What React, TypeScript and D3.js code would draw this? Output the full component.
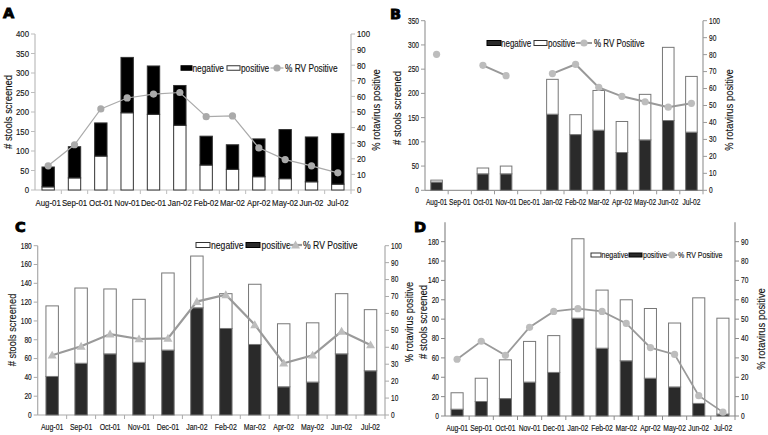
import React from "react";
import * as d3 from "d3";

const MONTHS = ["Aug-01", "Sep-01", "Oct-01", "Nov-01", "Dec-01", "Jan-02", "Feb-02", "Mar-02", "Apr-02", "May-02", "Jun-02", "Jul-02"];

// Panel A
const A_POSITIVE = [8, 31, 87, 198, 194, 166, 64, 53, 34, 29, 21, 15];
const A_NEGATIVE = [51, 80, 85, 142, 124, 102, 74, 63, 97, 126, 115, 130];
const A_PCT = [15.5, 29, 52, 59, 61.5, 62.5, 47, 47.5, 27, 19.5, 15.5, 11];
const A_LEFT_TICKS = [0, 50, 100, 150, 200, 250, 300, 350, 400];

// Panel B
const B_NEGATIVE: (number | null)[] = [17, null, 34, 34, null, 157, 115, 124, 78, 104, 144, 120];
const B_POSITIVE: (number | null)[] = [4, null, 12, 16, null, 72, 41, 82, 64, 94, 151, 115];
const B_PCT: (number | null)[] = [80.2, null, 73.7, 67.6, null, 68.8, 74.3, 60.7, 55.4, 52.2, 49, 51.3];
const B_LEFT_TICKS = [0, 50, 100, 150, 200, 250, 300, 350];

// Panel C
const C_POSITIVE = [41, 55, 65, 56, 69, 114, 92, 75, 30, 35, 65, 47];
const C_NEGATIVE = [75, 80, 69, 67, 82, 55, 37, 64, 67, 63, 64, 65];
const C_PCT = [35.3, 40.6, 47.8, 44.9, 45.3, 67, 71, 53.3, 30.6, 35.3, 49.4, 41.4];
const C_LEFT_TICKS = [0, 20, 40, 60, 80, 100, 120, 140, 160, 180];

// Panel D
const D_POSITIVE = [7, 15, 18, 35, 45, 101, 70, 57, 39, 30, 13, 2];
const D_NEGATIVE = [17, 24, 40, 42, 38, 82, 60, 63, 72, 66, 109, 99];
const D_PCT = [29.3, 38.6, 31.3, 45.8, 54, 55.4, 54, 47.8, 35.3, 31.8, 10.5, 2];
const D_LEFT_TICKS = [0, 20, 40, 60, 80, 100, 120, 140, 160, 180];
const D_LEFT_LABELS = ["0", "20", "40", "60", "80", "00", "20", "140", "160", "180"];

const PCT_TICKS_100 = [0, 10, 20, 30, 40, 50, 60, 70, 80, 90, 100];
const PCT_TICKS_90 = [0, 10, 20, 30, 40, 50, 60, 70, 80, 90];

const FONT = "'Liberation Sans', Arial, sans-serif";
const NX = 0.8; // horizontal condensation of the text

type Legend = {
  y: number;
  items: { kind: "rect" | "line"; x: number; w: number; fill: string; label: string; tx: number }[];
  size: number;
  boxH: number;
};

type PanelCfg = {
  letter: string;
  lx: number;
  ly: number;
  left: number;
  right: number;
  top: number;
  bottom: number;
  leftMax: number;
  leftTicks: number[];
  leftLabels?: string[];
  rightTicks: number[];
  rightMax: number;
  bottomVals: (number | null)[];
  topVals: (number | null)[];
  pct: (number | null)[];
  bottomFill: string;
  topFill: string;
  barStroke: string;
  barFrac: number;
  axisColor: string;
  lineColor: string;
  lineWidth: number;
  markerFill: string;
  marker: "circle" | "triangle";
  tickFont: number;
  xFont: number;
  xLabelY: number;
  titleFont: number;
  leftTitle: [number, number];
  rightTitle: [number, number];
  legend: Legend;
};

const DARK = "#2a2a2a";

const PANELS: PanelCfg[] = [
  {
    letter: "A", lx: 3, ly: 18,
    left: 35, right: 351, top: 34, bottom: 190,
    leftMax: 400, leftTicks: A_LEFT_TICKS, rightTicks: PCT_TICKS_100, rightMax: 100,
    bottomVals: A_POSITIVE, topVals: A_NEGATIVE, pct: A_PCT,
    bottomFill: "#ffffff", topFill: "#000000", barStroke: "#333", barFrac: 0.47,
    axisColor: "#bdbdbd", lineColor: "#aaaaaa", lineWidth: 1.2, markerFill: "#aaaaaa", marker: "circle",
    tickFont: 9.8, xFont: 9.8, xLabelY: 206, titleFont: 11.8,
    leftTitle: [8, 112], rightTitle: [376, 110],
    legend: {
      y: 68, size: 10.4, boxH: 4.5,
      items: [
        { kind: "rect", x: 181, w: 11, fill: "#000", label: "negative", tx: 192.5 },
        { kind: "rect", x: 227, w: 13, fill: "#fff", label: "positive", tx: 241 },
        { kind: "line", x: 270.5, w: 13, fill: "#aaa", label: "% RV Positive", tx: 285 },
      ],
    },
  },
  {
    letter: "B", lx: 390, ly: 19,
    left: 425, right: 703, top: 20.7, bottom: 190.3,
    leftMax: 350, leftTicks: B_LEFT_TICKS, rightTicks: PCT_TICKS_100, rightMax: 100,
    bottomVals: B_NEGATIVE, topVals: B_POSITIVE, pct: B_PCT,
    bottomFill: DARK, topFill: "#ffffff", barStroke: "#777", barFrac: 0.5,
    axisColor: "#9a9a9a", lineColor: "#999999", lineWidth: 2, markerFill: "#bdbdbd", marker: "circle",
    tickFont: 8.3, xFont: 8.3, xLabelY: 205, titleFont: 11.8,
    leftTitle: [397, 108], rightTitle: [729, 110],
    legend: {
      y: 43, size: 10, boxH: 5,
      items: [
        { kind: "rect", x: 487, w: 14, fill: DARK, label: "negative", tx: 501 },
        { kind: "rect", x: 534, w: 13, fill: "#fff", label: "positive", tx: 548 },
        { kind: "line", x: 576, w: 16, fill: "#bdbdbd", label: "% RV Positive", tx: 594 },
      ],
    },
  },
  {
    letter: "C", lx: 15, ly: 232,
    left: 37.7, right: 385, top: 245.7, bottom: 415,
    leftMax: 180, leftTicks: C_LEFT_TICKS, rightTicks: PCT_TICKS_100, rightMax: 100,
    bottomVals: C_POSITIVE, topVals: C_NEGATIVE, pct: C_PCT,
    bottomFill: DARK, topFill: "#ffffff", barStroke: "#777", barFrac: 0.43,
    axisColor: "#aaaaaa", lineColor: "#9a9a9a", lineWidth: 2.2, markerFill: "#bdbdbd", marker: "triangle",
    tickFont: 8.2, xFont: 8.7, xLabelY: 430, titleFont: 11.6,
    leftTitle: [12, 330], rightTitle: [409, 322],
    legend: {
      y: 245, size: 10.8, boxH: 5,
      items: [
        { kind: "rect", x: 196, w: 14, fill: "#fff", label: "negative", tx: 211 },
        { kind: "rect", x: 246, w: 14, fill: DARK, label: "positive", tx: 261.5 },
        { kind: "line", x: 289, w: 13, fill: "#bdbdbd", label: "% RV Positive", tx: 303 },
      ],
    },
  },
  {
    letter: "D", lx: 414, ly: 232,
    left: 445, right: 735, top: 222.3, bottom: 416,
    leftMax: 200, leftTicks: D_LEFT_TICKS, leftLabels: D_LEFT_LABELS, rightTicks: PCT_TICKS_90, rightMax: 100,
    bottomVals: D_POSITIVE, topVals: D_NEGATIVE, pct: D_PCT,
    bottomFill: DARK, topFill: "#ffffff", barStroke: "#777", barFrac: 0.5,
    axisColor: "#8a8a8a", lineColor: "#9a9a9a", lineWidth: 1.8, markerFill: "#bdbdbd", marker: "circle",
    tickFont: 8.3, xFont: 8.5, xLabelY: 431, titleFont: 11.8,
    leftTitle: [423, 322], rightTitle: [761, 329],
    legend: {
      y: 255, size: 8.8, boxH: 4,
      items: [
        { kind: "rect", x: 591, w: 10, fill: "#fff", label: "negative", tx: 601.5 },
        { kind: "rect", x: 629, w: 13, fill: DARK, label: "positive", tx: 643 },
        { kind: "line", x: 667, w: 10, fill: "#bdbdbd", label: "% RV Positive", tx: 678 },
      ],
    },
  },
];

function Txt({ x, y, size, anchor = "start", rot = 0, children }: { x: number; y: number; size: number; anchor?: string; rot?: number; children: React.ReactNode }) {
  return (
    <text
      transform={`translate(${x},${y}) rotate(${rot}) scale(${NX},1)`}
      textAnchor={anchor}
      dy="0.35em"
      fontSize={size}
      fontFamily={FONT}
      fill="#151515"
      stroke="#151515"
      strokeWidth={0.15}
    >
      {children}
    </text>
  );
}

function Marker({ kind, cx, cy, fill }: { kind: "circle" | "triangle"; cx: number; cy: number; fill: string }) {
  if (kind === "circle") return <circle cx={cx} cy={cy} r={3.6} fill={fill} />;
  const s = 4.5;
  return <path d={`M${cx},${cy - s}L${cx + s},${cy + s * 0.75}L${cx - s},${cy + s * 0.75}Z`} fill={fill} />;
}

function Panel({ p }: { p: PanelCfg }) {
  const x = d3.scaleBand<string>().domain(MONTHS).range([p.left, p.right]);
  const yL = d3.scaleLinear().domain([0, p.leftMax]).range([p.bottom, p.top]);
  const yR = d3.scaleLinear().domain([0, p.rightMax]).range([p.bottom, p.top]);
  const bw = x.step() * p.barFrac;
  const cxOf = (m: string) => (x(m) as number) + x.bandwidth() / 2;
  const line = d3
    .line<number | null>()
    .defined((d) => d !== null)
    .x((_, i) => cxOf(MONTHS[i]))
    .y((d) => yR(d as number));

  const tickLen = 4;
  return (
    <g>
      <text x={p.lx} y={p.ly} fontFamily="'DejaVu Sans', sans-serif" fontWeight="bold" fontSize={14.5} stroke="#000" strokeWidth={0.9}>
        {p.letter}
      </text>
      {/* axes */}
      <line x1={p.left} x2={p.left} y1={p.top} y2={p.bottom} stroke={p.axisColor} strokeWidth={1.2} />
      <line x1={p.right} x2={p.right} y1={p.top} y2={p.bottom} stroke={p.axisColor} strokeWidth={1.2} />
      <line x1={p.left} x2={p.right} y1={p.bottom} y2={p.bottom} stroke={p.axisColor} strokeWidth={1.2} />
      {p.leftTicks.map((t, i) => (
        <g key={"l" + t}>
          <line x1={p.left - tickLen} x2={p.left} y1={yL(t)} y2={yL(t)} stroke={p.axisColor} />
          <Txt x={p.left - tickLen - 2} y={yL(t)} size={p.tickFont} anchor="end">
            {p.leftLabels ? p.leftLabels[i] : String(t)}
          </Txt>
        </g>
      ))}
      {p.rightTicks.map((t) => (
        <g key={"r" + t}>
          <line x1={p.right} x2={p.right + tickLen} y1={yR(t)} y2={yR(t)} stroke={p.axisColor} />
          <Txt x={p.right + tickLen + 2} y={yR(t)} size={p.tickFont}>
            {String(t)}
          </Txt>
        </g>
      ))}
      {MONTHS.map((m) => (
        <line key={"xt" + m} x1={(x(m) as number) + x.step()} x2={(x(m) as number) + x.step()} y1={p.bottom} y2={p.bottom + tickLen} stroke={p.axisColor} />
      ))}
      {MONTHS.map((m) => (
        <Txt key={"xl" + m} x={cxOf(m)} y={p.xLabelY - 3} size={p.xFont} anchor="middle">
          {m}
        </Txt>
      ))}
      {/* bars */}
      {MONTHS.map((m, i) => {
        const b = p.bottomVals[i];
        const t = p.topVals[i];
        if (b === null || t === null) return null;
        const cx = cxOf(m);
        return (
          <g key={"b" + m}>
            <rect x={cx - bw / 2} y={yL(b)} width={bw} height={yL(0) - yL(b)} fill={p.bottomFill} stroke={p.barStroke} strokeWidth={1} />
            <rect x={cx - bw / 2} y={yL(b + t)} width={bw} height={yL(b) - yL(b + t)} fill={p.topFill} stroke={p.barStroke} strokeWidth={1} />
          </g>
        );
      })}
      {/* line */}
      <path d={line(p.pct) || ""} fill="none" stroke={p.lineColor} strokeWidth={p.lineWidth} />
      {p.pct.map((v, i) =>
        v === null ? null : <Marker key={"m" + i} kind={p.marker} cx={cxOf(MONTHS[i])} cy={yR(v)} fill={p.markerFill} />
      )}
      {/* titles */}
      <Txt x={p.leftTitle[0]} y={p.leftTitle[1]} rot={-90} size={p.titleFont} anchor="middle">
        # stools screened
      </Txt>
      <Txt x={p.rightTitle[0]} y={p.rightTitle[1]} rot={-90} size={p.titleFont} anchor="middle">
        % rotavirus positive
      </Txt>
      {/* legend */}
      {p.legend.items.map((it) => (
        <g key={"lg" + it.label}>
          {it.kind === "rect" ? (
            <rect x={it.x} y={p.legend.y - p.legend.boxH / 2} width={it.w} height={p.legend.boxH} fill={it.fill} stroke={it.fill === "#fff" ? "#333" : "#000"} strokeWidth={1} />
          ) : (
            <g>
              <line x1={it.x} x2={it.x + it.w} y1={p.legend.y} y2={p.legend.y} stroke={p.lineColor} strokeWidth={p.lineWidth} />
              <Marker kind={p.marker} cx={it.x + it.w / 2} cy={p.legend.y} fill={it.fill} />
            </g>
          )}
          <Txt x={it.tx} y={p.legend.y} size={p.legend.size}>
            {it.label}
          </Txt>
        </g>
      ))}
    </g>
  );
}

export default function App() {
  return (
    <svg width={768} height={435} style={{ position: "fixed", left: 0, top: 0, background: "#fff" }}>
      <rect width={768} height={435} fill="#fff" />
      {PANELS.map((p) => (
        <Panel key={p.letter} p={p} />
      ))}
    </svg>
  );
}
